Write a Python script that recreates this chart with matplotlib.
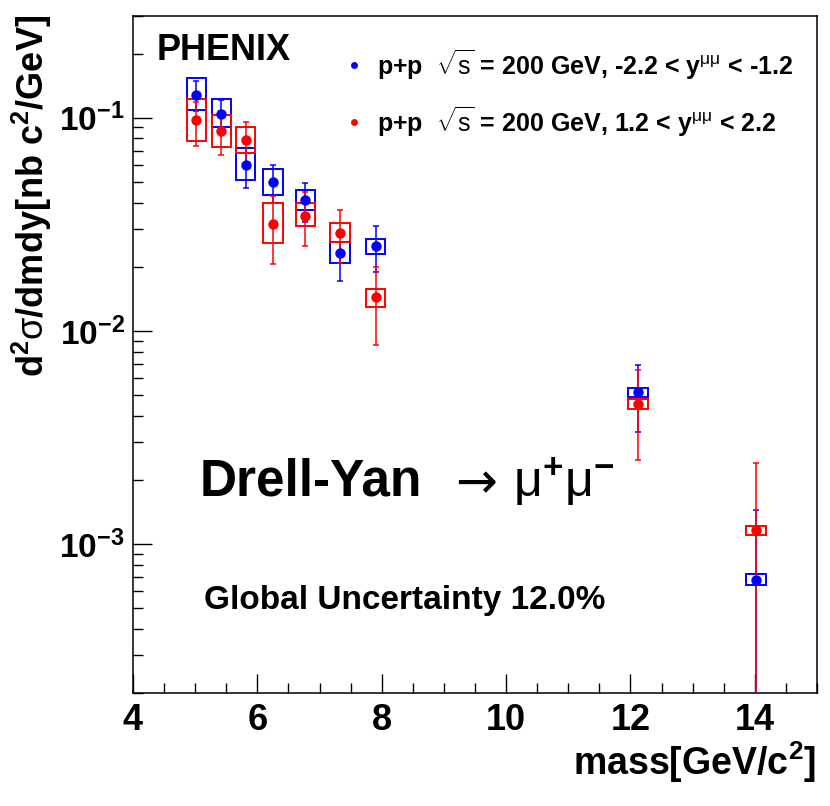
import matplotlib
matplotlib.use("Agg")
import matplotlib.pyplot as plt
from matplotlib.patches import Rectangle
from matplotlib.ticker import FixedLocator, NullFormatter, MultipleLocator
import numpy as np

plt.rcParams['font.family'] = ['Liberation Sans', 'DejaVu Sans']
plt.rcParams['font.weight'] = 'bold'
plt.rcParams['mathtext.fontset'] = 'custom'
plt.rcParams['mathtext.rm'] = 'Liberation Sans:weight=normal'
plt.rcParams['mathtext.it'] = 'Liberation Sans:italic:weight=normal'
plt.rcParams['mathtext.bf'] = 'Liberation Sans:weight=bold'
plt.rcParams['mathtext.sf'] = 'Liberation Sans:weight=normal'

# ---- data ----
mass_south = [5.02, 5.42, 5.81, 6.25, 6.77, 7.33, 7.90, 12.12, 14.02]
xs_south = [0.128, 0.104, 0.0602, 0.0499, 0.0409, 0.0231, 0.0249, 0.00517, 0.00068]
stat_up_south = [0.149, 0.121, 0.072, 0.0602, 0.0495, 0.0262, 0.0309, 0.00693, 0.00145]
stat_lo_south = [0.107, 0.088, 0.047, 0.0398, 0.0324, 0.0172, 0.0189, 0.00337, 0.0001]
sys_up_south = [0.153, 0.122, 0.072, 0.0576, 0.0458, 0.0262, 0.0270, 0.00542, 0.00072]
sys_lo_south = [0.109, 0.090, 0.0512, 0.0436, 0.0370, 0.0208, 0.0230, 0.00490, 0.00064]

mass_north = [5.02, 5.42, 5.81, 6.25, 6.77, 7.33, 7.90, 12.12, 14.02]
xs_north = [0.098, 0.0866, 0.0782, 0.0318, 0.0347, 0.0288, 0.0144, 0.00453, 0.00116]
stat_up_north = [0.118, 0.107, 0.0958, 0.043, 0.0446, 0.0368, 0.0200, 0.00657, 0.0024]
stat_lo_north = [0.074, 0.0665, 0.061, 0.0206, 0.0251, 0.0209, 0.0086, 0.00249, 0.0001]
sys_up_north = [0.122, 0.103, 0.0904, 0.0397, 0.0397, 0.0320, 0.0158, 0.00477, 0.00122]
sys_lo_north = [0.078, 0.073, 0.0683, 0.0258, 0.0310, 0.0262, 0.0130, 0.00431, 0.00110]

label_south = r"p+p  $\mathrm{\sqrt{s}}$ = 200 GeV, -2.2 < y$^{\mathrm{\mu\mu}}$ < -1.2"
label_north = r"p+p  $\mathrm{\sqrt{s}}$ = 200 GeV, 1.2 < y$^{\mathrm{\mu\mu}}$ < 2.2"

BLUE = '#0000ff'
RED = '#ff0000'
BOX_W = 0.31

fig = plt.figure(figsize=(8.30, 8.06), dpi=100)
ax = fig.add_axes([133/830, 1-693/806, (817-133)/830, (693-16)/806])
ax.set_yscale('log')
ax.set_xlim(4, 15)
ax.set_ylim(2e-4, 0.30)


def draw_series(m, y, su, sl, yu, yl, color, z):
    m = np.asarray(m); y = np.asarray(y)
    su = np.asarray(su); sl = np.asarray(sl)
    for xi, a, b in zip(m, yl, yu):
        ax.add_patch(Rectangle((xi - BOX_W/2, a), BOX_W, b - a, fill=False,
                               edgecolor=color, linewidth=1.4, zorder=z))
    ax.errorbar(m, y, yerr=[y - sl, su - y], fmt='none', ecolor=color,
                elinewidth=1.1, capsize=2.5, capthick=1.1, zorder=z + 0.5)


draw_series(mass_south, xs_south, stat_up_south, stat_lo_south, sys_up_south, sys_lo_south, BLUE, 2)
draw_series(mass_north, xs_north, stat_up_north, stat_lo_north, sys_up_north, sys_lo_north, RED, 3)
ax.plot(mass_north, xs_north, 'o', color=RED, markersize=7.5, markeredgewidth=0, zorder=5)
ax.plot(mass_south, xs_south, 'o', color=BLUE, markersize=7.5, markeredgewidth=0, zorder=6)

# axes styling
for s in ax.spines.values():
    s.set_linewidth(1.1)
ax.xaxis.set_major_locator(MultipleLocator(2))
ax.xaxis.set_minor_locator(MultipleLocator(0.5))
ax.tick_params(axis='both', which='both', direction='in', top=False, right=False, width=1.0)
ax.tick_params(axis='both', which='major', length=14)
ax.tick_params(axis='both', which='minor', length=7)
ax.tick_params(axis='x', which='major', labelsize=26, pad=7)
ax.tick_params(axis='y', which='major', labelsize=24, pad=6)
ax.yaxis.set_major_locator(FixedLocator([1e-3, 1e-2, 1e-1]))
ax.set_yticklabels([r'$\mathbf{10^{-3}}$', r'$\mathbf{10^{-2}}$', r'$\mathbf{10^{-1}}$'])
minors = [k * 10.0**e for e in (-4, -3, -2, -1) for k in range(2, 10)]
ax.yaxis.set_minor_locator(FixedLocator(minors))
ax.yaxis.set_minor_formatter(NullFormatter())

# labels
fig.text(816/830, 1 - 762/806, r"mass[GeV/c$^{\mathbf{2}}$]", fontsize=27, fontweight='bold',
         ha='right', va='center')
fig.text(32/830, 1 - 15/806, r"d$^{\mathbf{2}}$$\mathrm{\sigma}$/dmdy[nb c$^{\mathbf{2}}$/GeV]", fontsize=26,
         fontweight='bold', rotation=90, ha='center', va='top')

# annotations
fig.text(157/830, 1 - 51/806, "PHENIX", fontsize=26, fontweight='bold', ha='left', va='center')
fig.text(200/830, 1 - 482/806, "Drell-Yan", fontsize=37, fontweight='bold', ha='left', va='center')
fig.text(455/830, 1 - 484/806, "\u2192", fontsize=36, fontweight='normal', ha='left', va='center',
         family=['DejaVu Sans'])
fig.text(513/830, 1 - 482/806, r"$\mathrm{\mu}^{\mathbf{+}}\mathrm{\mu}^{\mathbf{-}}$",
         fontsize=36, ha='left', va='center')
fig.text(204/830, 1 - 600/806, "Global Uncertainty 12.0%", fontsize=24, fontweight='bold',
         ha='left', va='center')

# legend
for yy, lab, col in ((65, label_south, BLUE), (122, label_north, RED)):
    fig.lines.append(plt.Line2D([354/830], [1 - yy/806], marker='o', color=col, markersize=5,
                                markeredgewidth=0, transform=fig.transFigure))
    fig.text(377/830, 1 - yy/806, lab, fontsize=18, fontweight='bold', ha='left', va='center')

fig.savefig('out.png', dpi=100)
